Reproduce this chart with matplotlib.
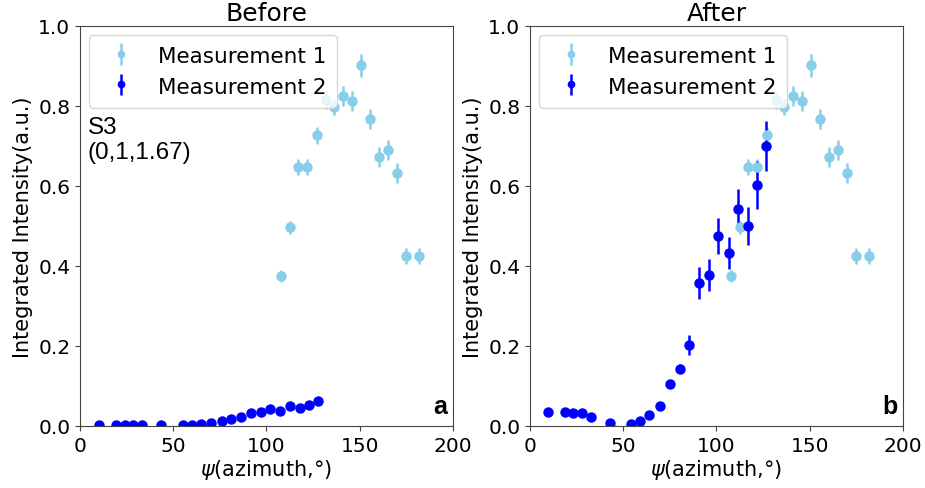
import matplotlib
matplotlib.use("Agg")
import matplotlib.pyplot as plt

# Measurement 1 (same data shown in both panels)
psi_m1 = [108, 112.5, 117, 122, 127, 132, 136.5, 141, 146, 150.5, 155.5, 160.5, 165, 170, 175, 182]
int_m1 = [0.374, 0.496, 0.647, 0.648, 0.726, 0.814, 0.796, 0.825, 0.811, 0.901, 0.767, 0.671,
          0.689, 0.631, 0.424, 0.424]
err_m1 = [0.015, 0.017, 0.02, 0.02, 0.022, 0.022, 0.02, 0.025, 0.025, 0.028, 0.025, 0.025,
          0.025, 0.025, 0.02, 0.02]

# Measurement 2, before
psi_before = [10, 19.5, 24, 28.5, 33.5, 43.5, 55, 60, 65, 70.5, 76, 81, 86.5, 92, 97, 102,
              107.5, 112.5, 118, 123, 127.5]
int_before = [0.002, 0.002, 0.002, 0.002, 0.002, 0.001, 0.001, 0.002, 0.004, 0.008, 0.013,
              0.016, 0.021, 0.032, 0.034, 0.043, 0.038, 0.049, 0.044, 0.053, 0.062]
err_before = [0.002] * len(psi_before)

# Measurement 2, after
psi_after = [9.5, 18.5, 23, 28, 32.5, 43, 54, 59, 64, 69.5, 75, 80.5, 85.5, 90.5, 96, 101,
             106.5, 111.5, 117, 122, 126.5]
int_after = [0.034, 0.034, 0.033, 0.033, 0.023, 0.007, 0.005, 0.012, 0.028, 0.049, 0.105,
             0.143, 0.203, 0.357, 0.376, 0.475, 0.432, 0.543, 0.500, 0.602, 0.700]
err_after = [0.003, 0.003, 0.003, 0.003, 0.003, 0.003, 0.003, 0.003, 0.005, 0.006, 0.008,
             0.012, 0.025, 0.04, 0.04, 0.045, 0.04, 0.05, 0.047, 0.06, 0.062]

light = '#87CEEB'
dark = '#0000FF'

plt.rcParams['axes.edgecolor'] = '#444444'
plt.rcParams['xtick.color'] = '#444444'
plt.rcParams['ytick.color'] = '#444444'
plt.rcParams['xtick.labelcolor'] = 'black'
plt.rcParams['ytick.labelcolor'] = 'black'

fig = plt.figure(figsize=(9.25, 4.89), dpi=100)
ax1 = fig.add_axes([0.0865, 0.127, 0.403, 0.818])
ax2 = fig.add_axes([0.573, 0.127, 0.403, 0.818])

panels = [
    (ax1, "Before", psi_before, int_before, err_before, "a"),
    (ax2, "After", psi_after, int_after, err_after, "b"),
]

for ax, title, px, py, pe, tag in panels:
    ax.errorbar(psi_m1, int_m1, yerr=err_m1, fmt='o', color=light, ms=6.5, elinewidth=1.8,
                label='Measurement 1')
    ax.errorbar(px, py, yerr=pe, fmt='o', color=dark, ms=6.5, elinewidth=1.8,
                label='Measurement 2')
    ax.set_xlim(0, 200)
    ax.set_ylim(0, 1.0)
    ax.set_title(title, fontsize=18, pad=4)
    ax.set_xlabel(r'$\psi$(azimuth,°)', fontsize=15, labelpad=2)
    ax.set_ylabel('Integrated Intensity(a.u.)', fontsize=15)
    ax.tick_params(labelsize=14.5)
    ax.legend(loc='upper left', fontsize=15.5, handletextpad=0.7, borderaxespad=0.4,
              markerscale=0.7, handleheight=1.0, labelspacing=0.45, borderpad=0.5)
    ax.text(0.985, 0.02, tag, transform=ax.transAxes, ha='right', va='bottom',
            fontsize=18, fontweight='bold', family='Liberation Sans')

ax1.text(0.02, 0.775, 'S3\n(0,1,1.67)', transform=ax1.transAxes, ha='left', va='top',
         fontsize=17.5, family='Liberation Sans', linespacing=1.2)

fig.savefig('out.png', dpi=100)
